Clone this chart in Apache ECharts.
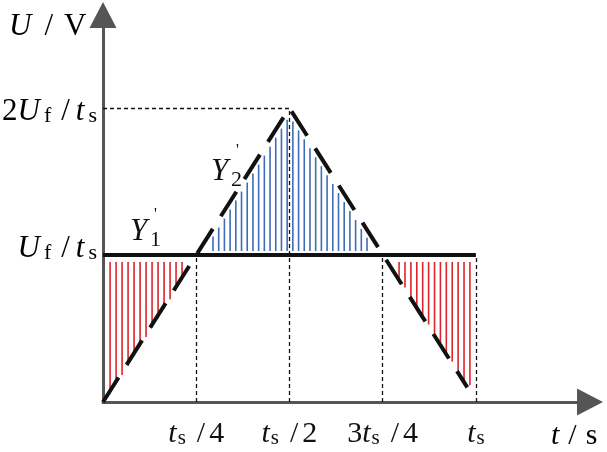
<!DOCTYPE html>
<html><head><meta charset="utf-8">
<script src="https://cdn.jsdelivr.net/npm/echarts@6/dist/echarts.min.js"></script>
<style>html,body{margin:0;padding:0;background:#fff}#c{width:607px;height:452px}</style>
</head><body><div id="c"></div>
<script>
// ---- data (x in units of t_s, y in units of U_f / t_s) ----
const dashX = [0, 0.5, 0.977];
const dashY = [0, 2, 0.1];
const levelX = [0, 1];
const levelY = [1, 1];
const guideX1 = [0.25, 0.5, 0.75, 1, 0];
const guideY1 = [0, 0, 0, 0, 2];
const guideX2 = [0.25, 0.5, 0.75, 1, 0.5];
const guideY2 = [1, 2, 1, 1, 2];
const hatchX0 = [0.019, 0.295, 0.794];
const hatchX1 = [0.212, 0.708, 0.984];
const hatchTop = ['level', 'dash', 'level'];
const hatchBottom = ['dash', 'level', 'dash'];
const hatchColor = ['#d9262c', '#3e6db5', '#d9262c'];
const xTickValues = [0.25, 0.5, 0.75, 1];
const xTickLabels = ['{i|t}{s|s}{sl|/}{n|4}', '{i|t}{s|s}{sl|/}{n|2}', '{n|3}{i|t}{s|s}{sl|/}{n|4}', '{i|t}{s|s}'];
const yTickValues = [1, 2];
const yTickLabels = ['{i|U}{s|f}{sl|/}{i|t}{s|s}', '{n|2}{i|U}{s|f}{sl|/}{i|t}{s|s}'];

const SERIF = 'Liberation Serif';
function rich(size, sub, pad, sp) {
  return {
    n: {fontFamily: SERIF, fontSize: size, color: '#111', lineHeight: size, verticalAlign: 'top'},
    i: {fontFamily: SERIF, fontStyle: 'italic', fontSize: size, color: '#111', lineHeight: size, verticalAlign: 'top'},
    sl: {fontFamily: SERIF, fontSize: size, color: '#111', lineHeight: size, verticalAlign: 'top', padding: [0, sp[1], 0, sp[0]]},
    s: {fontFamily: SERIF, fontSize: sub, color: '#111', lineHeight: sub, verticalAlign: 'bottom', padding: [pad, 0, 0, sp[2]]}
  };
}
function dashAt(x) {
  for (let k = 0; k < dashX.length - 1; k++) {
    if (x >= dashX[k] && x <= dashX[k + 1]) {
      const t = (x - dashX[k]) / (dashX[k + 1] - dashX[k]);
      return dashY[k] + t * (dashY[k + 1] - dashY[k]);
    }
  }
  return x < dashX[0] ? dashY[0] : dashY[dashY.length - 1];
}

const chart = echarts.init(document.getElementById('c'), null, {renderer: 'canvas'});

const hatchBottomGap = [3, -4, -2];
function renderHatch(params, api) {
  const r = params.dataIndex;
  const x0 = hatchX0[r], x1 = hatchX1[r];
  const p0 = api.coord([x0, 0])[0], p1 = api.coord([x1, 0])[0];
  const n = Math.round((p1 - p0) / 5.8);
  const levelPx = api.coord([0, levelY[0]])[1];
  const children = [];
  for (let k = 0; k <= n; k++) {
    const xv = x0 + (x1 - x0) * k / n;
    const px = p0 + (p1 - p0) * k / n;
    const dPx = api.coord([xv, dashAt(xv)])[1];
    const top = hatchTop[r] === 'level' ? levelPx + 7 : dPx + 8;
    const bottom = (hatchBottom[r] === 'level' ? levelPx : dPx) + hatchBottomGap[r];
    if (bottom > top) {
      children.push({type: 'line', shape: {x1: px, y1: top, x2: px, y2: bottom},
        style: {stroke: hatchColor[r], lineWidth: 1.6}});
    }
  }
  return {type: 'group', children: children};
}

const guides = guideX1.map((x, k) => ({coords: [[x, guideY1[k]], [guideX2[k], guideY2[k]]]}));

chart.setOption({
  animation: false,
  backgroundColor: '#fff',
  grid: {left: 103, right: 17, top: 15, bottom: 50},
  xAxis: {
    type: 'value', min: 0, max: 1.306, interval: 0.25,
    axisLine: {show: true, symbol: ['none', 'triangle'], symbolSize: [27, 26], lineStyle: {color: '#555', width: 3}},
    axisTick: {show: false}, splitLine: {show: false},
    axisLabel: {
      show: true, margin: 17, showMaxLabel: false, showMinLabel: false,
      formatter: v => { const k = xTickValues.findIndex(t => Math.abs(t - v) < 1e-6); return k < 0 ? '' : xTickLabels[k]; },
      rich: rich(30, 21, 12, [11, 4, 1])
    }
  },
  yAxis: {
    type: 'value', min: 0, max: 2.633, interval: 1,
    axisLine: {show: true, symbol: ['none', 'triangle'], symbolSize: [27, 26], lineStyle: {color: '#555', width: 3}},
    axisTick: {show: false}, splitLine: {show: false}, axisLabel: {show: false}
  },
  series: [
    {type: 'custom', coordinateSystem: 'cartesian2d', renderItem: renderHatch, data: hatchX0.map((x, k) => [x, k]), z: 1, silent: true, clip: false},
    {type: 'lines', coordinateSystem: 'cartesian2d', polyline: false, data: guides, z: 2,
      lineStyle: {color: '#111', width: 1.3, type: [4, 3], opacity: 1}, silent: true},
    {type: 'line', data: levelX.map((x, k) => [x, levelY[k]]), symbol: 'none', z: 3,
      lineStyle: {color: '#111', width: 4}},
    {type: 'line', data: dashX.map((x, k) => [x, dashY[k]]), symbol: 'none', z: 4,
      lineStyle: {color: '#111', width: 4, type: [29, 15]}}
  ]
});

// y tick labels and annotations
const yLabelOffsets = [-6, 4];
const graphics = yTickValues.map((v, k) => {
  const py = chart.convertToPixel({yAxisIndex: 0}, v);
  return {type: 'text', silent: true, style: {text: yTickLabels[k], rich: rich(31, 22, 12, [10, 6, 4]), x: 97, y: py + yLabelOffsets[k], align: 'right', verticalAlign: 'middle'}};
});
graphics.push(
  {type: 'text', style: {text: '{i|U}{sl|/}{n|V}', rich: rich(31, 22, 12, [13, 11, 0]), x: 9, y: 11, align: 'left', verticalAlign: 'top'}},
  {type: 'text', style: {text: '{i|t}{sl|/}{n|s}', rich: rich(30, 21, 12, [9, 9, 0]), x: 551, y: 421, align: 'left', verticalAlign: 'top'}},
  {type: 'text', style: {text: 'Y', font: 'italic 31px Liberation Serif', fill: '#111', x: 130, y: 216, align: 'left', verticalAlign: 'top'}},
  {type: 'text', style: {text: '1', font: '22px Liberation Serif', fill: '#111', x: 150, y: 229, align: 'left', verticalAlign: 'top'}},
  {type: 'text', style: {text: "'", font: '16px Liberation Serif', fill: '#111', x: 154, y: 207, align: 'left', verticalAlign: 'top'}},
  {type: 'text', style: {text: 'Y', font: 'italic 31px Liberation Serif', fill: '#111', x: 211, y: 156, align: 'left', verticalAlign: 'top'}},
  {type: 'text', style: {text: '2', font: '22px Liberation Serif', fill: '#111', x: 231, y: 169, align: 'left', verticalAlign: 'top'}},
  {type: 'text', style: {text: "'", font: '16px Liberation Serif', fill: '#111', x: 236, y: 143, align: 'left', verticalAlign: 'top'}}
);
chart.setOption({graphic: graphics});
</script></body></html>
